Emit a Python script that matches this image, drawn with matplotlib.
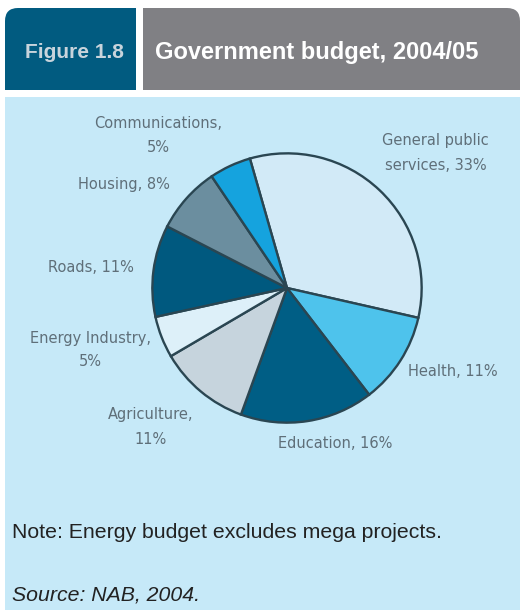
import matplotlib
matplotlib.use("Agg")
import matplotlib.pyplot as plt
from matplotlib.patches import FancyBboxPatch, Rectangle

# Budget shares, clockwise from the top
sectors = ["General public services", "Health", "Education", "Agriculture",
           "Energy Industry", "Roads", "Housing", "Communications"]
shares = [33, 11, 16, 11, 5, 11, 8, 5]
label_texts = ["General public\nservices, 33%", "Health, 11%", "Education, 16%",
               "Agriculture,\n11%", "Energy Industry,\n5%", "Roads, 11%",
               "Housing, 8%", "Communications,\n5%"]
slice_colors = ["#d2eaf7", "#4ec3ec", "#005e85", "#c6d4dd",
                "#ddf0f9", "#00597f", "#6b8e9f", "#15a3de"]

W, H = 520, 611
fig = plt.figure(figsize=(W / 100, H / 100), dpi=100)

# background canvas in pixel units
bg = fig.add_axes([0, 0, 1, 1])
bg.set_xlim(0, W)
bg.set_ylim(H, 0)
bg.axis("off")

panel_blue = "#c6e9f8"
teal = "#015b80"
grey = "#808084"

# header tabs with one rounded corner each
bg.add_patch(FancyBboxPatch((5, 8), 131, 82, boxstyle="round,pad=0,rounding_size=13",
                            fc=teal, ec="none"))
bg.add_patch(Rectangle((60, 8), 76, 82, fc=teal, ec="none"))
bg.add_patch(Rectangle((5, 50), 131, 40, fc=teal, ec="none"))

bg.add_patch(FancyBboxPatch((143, 8), 377, 82, boxstyle="round,pad=0,rounding_size=13",
                            fc=grey, ec="none"))
bg.add_patch(Rectangle((143, 8), 300, 82, fc=grey, ec="none"))
bg.add_patch(Rectangle((143, 50), 377, 40, fc=grey, ec="none"))

bg.text(25, 52, "Figure 1.8", fontsize=15, fontweight="bold", color="#c8d4dc",
        family="Liberation Sans", va="center", ha="left")
bg.text(155, 52, "Government budget, 2004/05", fontsize=17, fontweight="bold",
        color="white", family="Liberation Sans", va="center", ha="left")

# light blue body panel
bg.add_patch(Rectangle((5, 97), 515, 513, fc=panel_blue, ec="none"))

bg.text(12, 532, "Note: Energy budget excludes mega projects.", fontsize=15.3,
        color="#222222", family="Liberation Sans", va="center", ha="left")
bg.text(12, 595, "Source: NAB, 2004.", fontsize=15.3, style="italic",
        color="#222222", family="Liberation Sans", va="center", ha="left")

# pie chart
cx, cy, r = 287, 288, 136
ax = fig.add_axes([(cx - r) / W, (H - cy - r) / H, 2 * r / W, 2 * r / H])
ax.pie(shares, colors=slice_colors, startangle=106, counterclock=False,
       wedgeprops=dict(edgecolor="#2a4652", linewidth=1.7))
ax.set_xlim(-1.01, 1.01)
ax.set_ylim(-1.01, 1.01)
ax.axis("off")

# sector labels (pixel anchor, alignment)
label_pos = {
    "General public services": (382, 153, "left"),
    "Health": (408, 372, "left"),
    "Education": (278, 443, "left"),
    "Agriculture": (151, 427, "center"),
    "Energy Industry": (90, 350, "center"),
    "Roads": (48, 268, "left"),
    "Housing": (78, 185, "left"),
    "Communications": (158, 136, "center"),
}
for name, txt in zip(sectors, label_texts):
    x, y, ha = label_pos[name]
    bg.text(x, y, txt, fontsize=10.5, color="#5f6f79", family="DejaVu Sans",
            ha=ha, va="center", linespacing=1.75, multialignment="center")

fig.savefig("out.png", dpi=100, facecolor="white")
